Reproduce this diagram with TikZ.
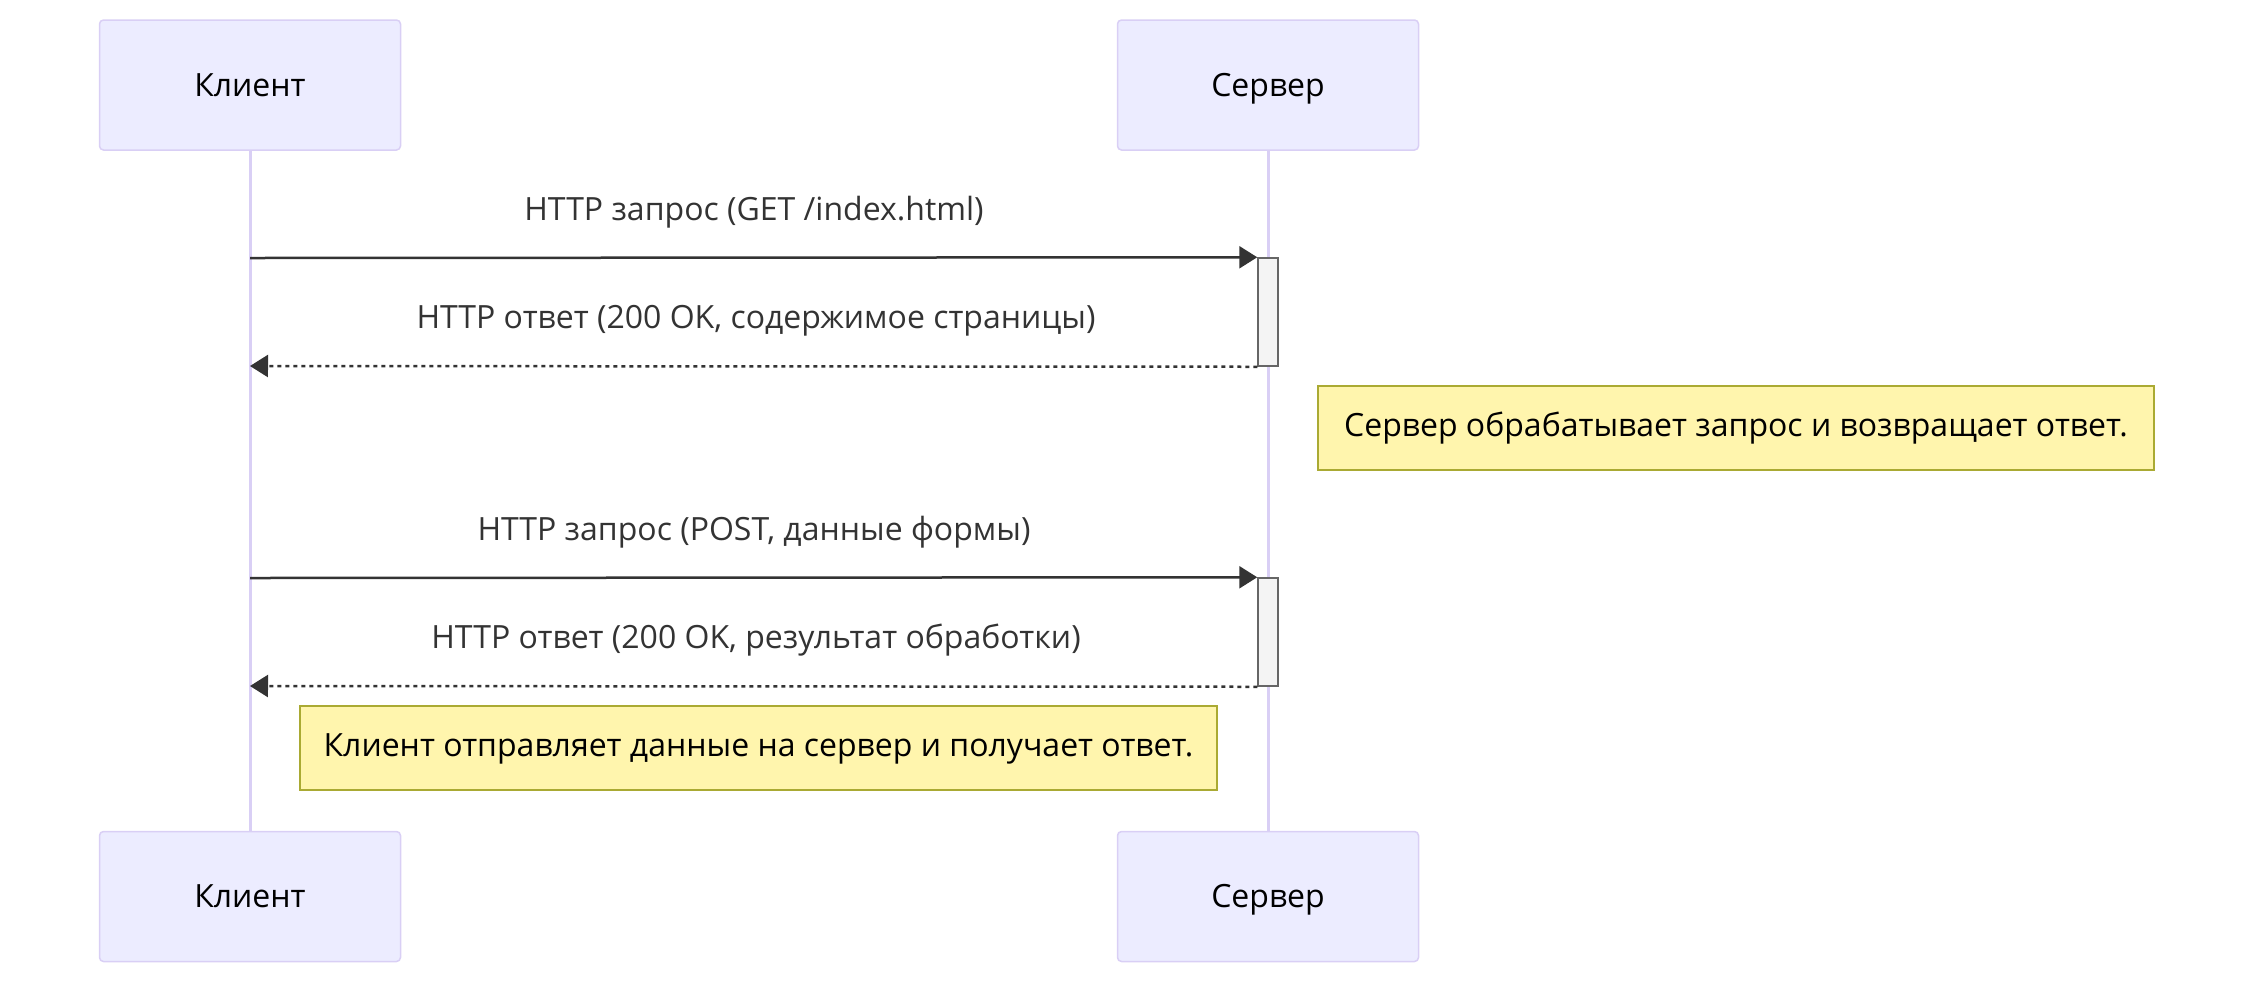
\documentclass[tikz,border=0pt]{standalone}
\usepackage{fontspec}
\setmainfont{Open Sans}
\usetikzlibrary{arrows.meta,positioning,calc}
\definecolor{actorbg}{HTML}{ECECFF}
\definecolor{lifeln}{HTML}{D9CFF5}
\definecolor{notebg}{HTML}{FFF5AD}
\definecolor{noteln}{HTML}{AAAA33}
\definecolor{actbg}{HTML}{F4F4F4}
\definecolor{actln}{HTML}{666666}
\definecolor{msgln}{HTML}{333333}

\begin{document}
\begin{tikzpicture}[x=0.5pt, y=-0.5pt,
    actor/.style={rectangle, draw=lifeln, fill=actorbg, rounded corners=2pt, line width=0.75pt,
        minimum width=150.5pt, minimum height=65pt, text height=15pt, text depth=4pt, font=\fontsize{16}{19}\selectfont},
    lifeline/.style={draw=lifeln, line width=1.5pt},
    actbox/.style={rectangle, draw=actln, fill=actbg, line width=0.75pt, minimum width=10pt, minimum height=54pt, inner sep=0pt},
    note/.style={rectangle, draw=noteln, fill=notebg, line width=0.75pt, minimum height=42pt,
        text height=12pt, text depth=4pt, font=\fontsize{16}{19}\selectfont},
    label/.style={text=msgln, text height=12pt, text depth=4pt, font=\fontsize{16}{19}\selectfont},
    req/.style={draw=msgln, line width=1.25pt, -{Triangle[length=9pt, width=11pt]}},
    resp/.style={req, dash pattern=on 2pt off 2pt}
]
    \useasboundingbox (0,0) rectangle (2254,982);

    % actors
    \node[actor] (cTop) at (250,85) {Клиент};
    \node[actor] (sTop) at (1268,85) {Сервер};
    \node[actor, below=340pt of cTop] (cBot) {Клиент};
    \node[actor, below=340pt of sTop] (sBot) {Сервер};
    \draw[lifeline] (cTop) -- (cBot);
    \draw[lifeline] (sTop) -- (sBot);

    % activations
    \node[actbox] (act1) at (1268,312) {};
    \node[actbox] (act2) at (1268,632) {};

    \coordinate (c1) at (250,258);
    \coordinate (c2) at (250,366);
    \coordinate (c3) at (250,578);
    \coordinate (c4) at (250,686);

    % messages
    \node[label] (m1) at (754,212) {HTTP запрос (GET /index.html)};
    \draw[req] (c1) -- (act1.north west);
    \node[label] (m2) at (756,320) {HTTP ответ (200 OK, содержимое страницы)};
    \draw[resp] (act1.south west) -- (c2);
    \node[label] (m3) at (754,532) {HTTP запрос (POST, данные формы)};
    \draw[req] (c3) -- (act2.north west);
    \node[label] (m4) at (756,640) {HTTP ответ (200 OK, результат обработки)};
    \draw[resp] (act2.south west) -- (c4);

    % notes
    \node[note, minimum width=418pt] (n1) at (1736,428) {Сервер обрабатывает запрос и возвращает ответ.};
    \node[note, minimum width=458.5pt] (n2) at (758.5,748) {Клиент отправляет данные на сервер и получает ответ.};
\end{tikzpicture}
\end{document}
